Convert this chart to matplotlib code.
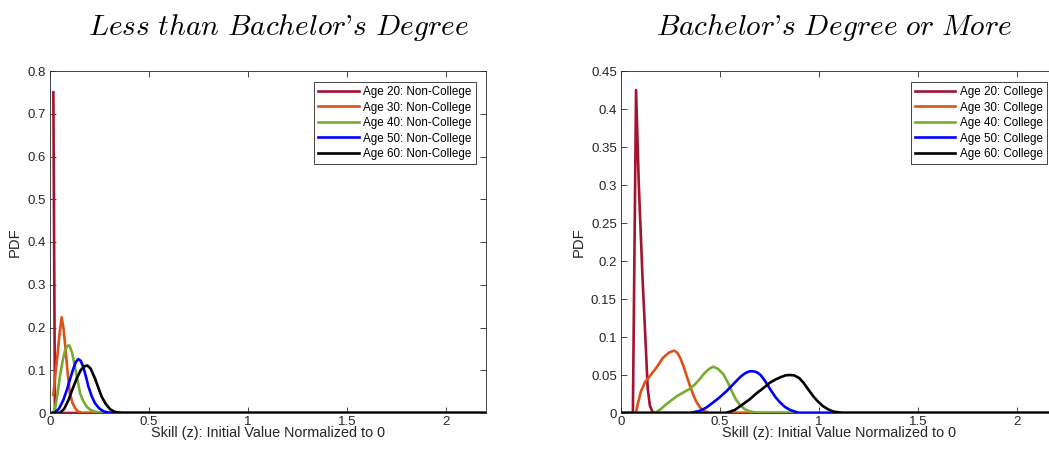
import matplotlib
matplotlib.use("Agg")
import matplotlib.pyplot as plt

plt.rcParams['font.family'] = ['Liberation Sans', 'DejaVu Sans']
plt.rcParams['mathtext.fontset'] = 'cm'

# ---------------- data: Less than Bachelor's Degree ----------------
nc20_x = [0.017, 0.025, 0.05, 2.2]
nc20_y = [0.75, 0.0, 0.0, 0.0]
nc30_x = [0.017, 0.027, 0.037, 0.048, 0.059, 0.069, 0.079, 0.09, 0.10, 0.113, 0.126, 0.14, 0.16, 0.2, 2.2]
nc30_y = [0.042, 0.09, 0.132, 0.185, 0.224, 0.195, 0.147, 0.09, 0.047, 0.024, 0.012, 0.004, 0.0, 0.0, 0.0]
nc40_x = [0.012, 0.02, 0.027, 0.038, 0.05, 0.063, 0.075, 0.087, 0.098, 0.112, 0.126, 0.14, 0.152, 0.168, 0.185, 0.205, 0.227, 0.25, 0.27, 2.2]
nc40_y = [0.0, 0.004, 0.015, 0.045, 0.085, 0.12, 0.145, 0.157, 0.158, 0.14, 0.108, 0.075, 0.046, 0.028, 0.015, 0.007, 0.003, 0.001, 0.0, 0.0]
nc50_x = [0.012, 0.027, 0.045, 0.067, 0.085, 0.10, 0.115, 0.13, 0.143, 0.155, 0.168, 0.181, 0.194, 0.21, 0.227, 0.248, 0.27, 0.295, 0.32, 2.2]
nc50_y = [0.0, 0.002, 0.01, 0.03, 0.054, 0.077, 0.1, 0.119, 0.126, 0.122, 0.108, 0.086, 0.062, 0.04, 0.023, 0.011, 0.004, 0.001, 0.0, 0.0]
nc60_x = [0.012, 0.05, 0.072, 0.093, 0.113, 0.135, 0.155, 0.172, 0.189, 0.205, 0.227, 0.245, 0.261, 0.282, 0.303, 0.325, 0.345, 0.37, 2.2]
nc60_y = [0.0, 0.0, 0.01, 0.03, 0.055, 0.081, 0.1, 0.109, 0.111, 0.104, 0.081, 0.058, 0.038, 0.021, 0.009, 0.003, 0.001, 0.0, 0.0]

# ---------------- data: Bachelor's Degree or More ----------------
c20_x = [0.01, 0.06, 0.076, 0.09, 0.109, 0.125, 0.135, 0.146, 0.158, 0.172, 2.2]
c20_y = [0.0, 0.0, 0.425, 0.3, 0.176, 0.0885, 0.032, 0.0096, 0.002, 0.0, 0.0]
c30_x = [0.01, 0.075, 0.085, 0.1, 0.12, 0.15, 0.18, 0.21, 0.24, 0.255, 0.27, 0.285, 0.3, 0.315, 0.33, 0.348, 0.365, 0.382, 0.4, 0.416, 0.45, 2.2]
c30_y = [0.0, 0.0, 0.012, 0.028, 0.04, 0.05, 0.06, 0.072, 0.079, 0.081, 0.082, 0.079, 0.072, 0.062, 0.05, 0.036, 0.024, 0.014, 0.007, 0.003, 0.0, 0.0]
c40_x = [0.01, 0.172, 0.2, 0.231, 0.281, 0.315, 0.348, 0.375, 0.399, 0.42, 0.445, 0.466, 0.49, 0.517, 0.54, 0.559, 0.58, 0.601, 0.625, 0.65, 0.7, 2.2]
c40_y = [0.0, 0.0, 0.005, 0.012, 0.022, 0.027, 0.032, 0.038, 0.045, 0.052, 0.058, 0.061, 0.058, 0.051, 0.04, 0.029, 0.018, 0.0105, 0.005, 0.002, 0.0, 0.0]
c50_x = [0.01, 0.35, 0.399, 0.43, 0.466, 0.5, 0.534, 0.56, 0.584, 0.605, 0.625, 0.645, 0.66, 0.675, 0.69, 0.705, 0.728, 0.753, 0.78, 0.803, 0.828, 0.854, 0.9, 2.2]
c50_y = [0.0, 0.0, 0.003, 0.007, 0.014, 0.021, 0.029, 0.036, 0.0425, 0.048, 0.052, 0.0545, 0.055, 0.0545, 0.053, 0.05, 0.042, 0.0315, 0.021, 0.014, 0.008, 0.004, 0.0, 0.0]
c60_x = [0.01, 0.53, 0.575, 0.618, 0.65, 0.685, 0.72, 0.753, 0.78, 0.805, 0.83, 0.854, 0.875, 0.9, 0.921, 0.946, 0.971, 0.995, 1.02, 1.045, 1.07, 1.12, 2.2]
c60_y = [0.0, 0.0, 0.004, 0.012, 0.018, 0.026, 0.033, 0.040, 0.044, 0.047, 0.0495, 0.05, 0.0495, 0.046, 0.040, 0.031, 0.022, 0.015, 0.009, 0.005, 0.002, 0.0, 0.0]

left_labels = ["Age 20: Non-College", "Age 30: Non-College", "Age 40: Non-College",
               "Age 50: Non-College", "Age 60: Non-College"]
right_labels = ["Age 20: College", "Age 30: College", "Age 40: College",
                "Age 50: College", "Age 60: College"]
colors = ["#A2142F", "#D95319", "#77AC30", "#0000FF", "#000000"]

x_ticks = [0, 0.5, 1, 1.5, 2]
x_tick_labels = ["0", "0.5", "1", "1.5", "2"]
left_yticks = [0, 0.1, 0.2, 0.3, 0.4, 0.5, 0.6, 0.7, 0.8]
left_ytick_labels = ["0", "0.1", "0.2", "0.3", "0.4", "0.5", "0.6", "0.7", "0.8"]
right_yticks = [0, 0.05, 0.1, 0.15, 0.2, 0.25, 0.3, 0.35, 0.4, 0.45]
right_ytick_labels = ["0", "0.05", "0.1", "0.15", "0.2", "0.25", "0.3", "0.35", "0.4", "0.45"]

xlabel = "Skill (z): Initial Value Normalized to 0"

fig = plt.figure(figsize=(10.49, 4.59), dpi=100)
W, H = 1049, 459
axw = 435.6 / W
axh = 342 / H
axb = (H - 413) / H
ax1 = fig.add_axes([50 / W, axb, axw, axh])
ax2 = fig.add_axes([621 / W, axb, axw, axh])

gray = "#262626"

def style(ax, yt, ytl, ymax, series, labels):
    for (xs, ys), lab, c in zip(series, labels, colors):
        ax.plot(xs, ys, color=c, lw=1.9, label=lab, solid_joinstyle='round')
    ax.set_xlim(0, 2.2)
    ax.set_ylim(0, ymax)
    ax.set_xticks(x_ticks)
    ax.set_xticklabels(x_tick_labels)
    ax.set_yticks(yt)
    ax.set_yticklabels(ytl)
    ax.tick_params(direction='in', length=4, width=0.6, colors=gray, labelsize=9.5,
                   top=True, right=True, pad=3)
    ax.tick_params(axis='x', pad=2)
    for s in ax.spines.values():
        s.set_color(gray)
        s.set_linewidth(0.6)
    ax.set_xlabel(xlabel, fontsize=10.4, color=gray, labelpad=-1)
    ax.set_ylabel("PDF", fontsize=10.6, color=gray, labelpad=4)
    leg = ax.legend(loc='upper right', bbox_to_anchor=(1 - 10 / 435.6, 1 - 11 / 342),
                    fontsize=8.4, frameon=True, fancybox=False, framealpha=1,
                    edgecolor=gray, handlelength=3.5, handletextpad=0.35,
                    labelspacing=0.3, borderpad=0.35, borderaxespad=0.0)
    leg.get_frame().set_linewidth(0.6)

style(ax1, left_yticks, left_ytick_labels, 0.8,
      [(nc20_x, nc20_y), (nc30_x, nc30_y), (nc40_x, nc40_y), (nc50_x, nc50_y), (nc60_x, nc60_y)],
      left_labels)
style(ax2, right_yticks, right_ytick_labels, 0.45,
      [(c20_x, c20_y), (c30_x, c30_y), (c40_x, c40_y), (c50_x, c50_y), (c60_x, c60_y)],
      right_labels)

title_y = 1 - 35 / H
fig.text(278 / W, title_y, r"$\mathit{Less\ than\ Bachelor}$'$\mathit{s\ Degree}$",
         ha='center', va='baseline', fontsize=21.2, family='cmr10')
fig.text(834 / W, title_y, r"$\mathit{Bachelor}$'$\mathit{s\ Degree\ or\ More}$",
         ha='center', va='baseline', fontsize=21.2, family='cmr10')

fig.savefig("out.png", dpi=100)
